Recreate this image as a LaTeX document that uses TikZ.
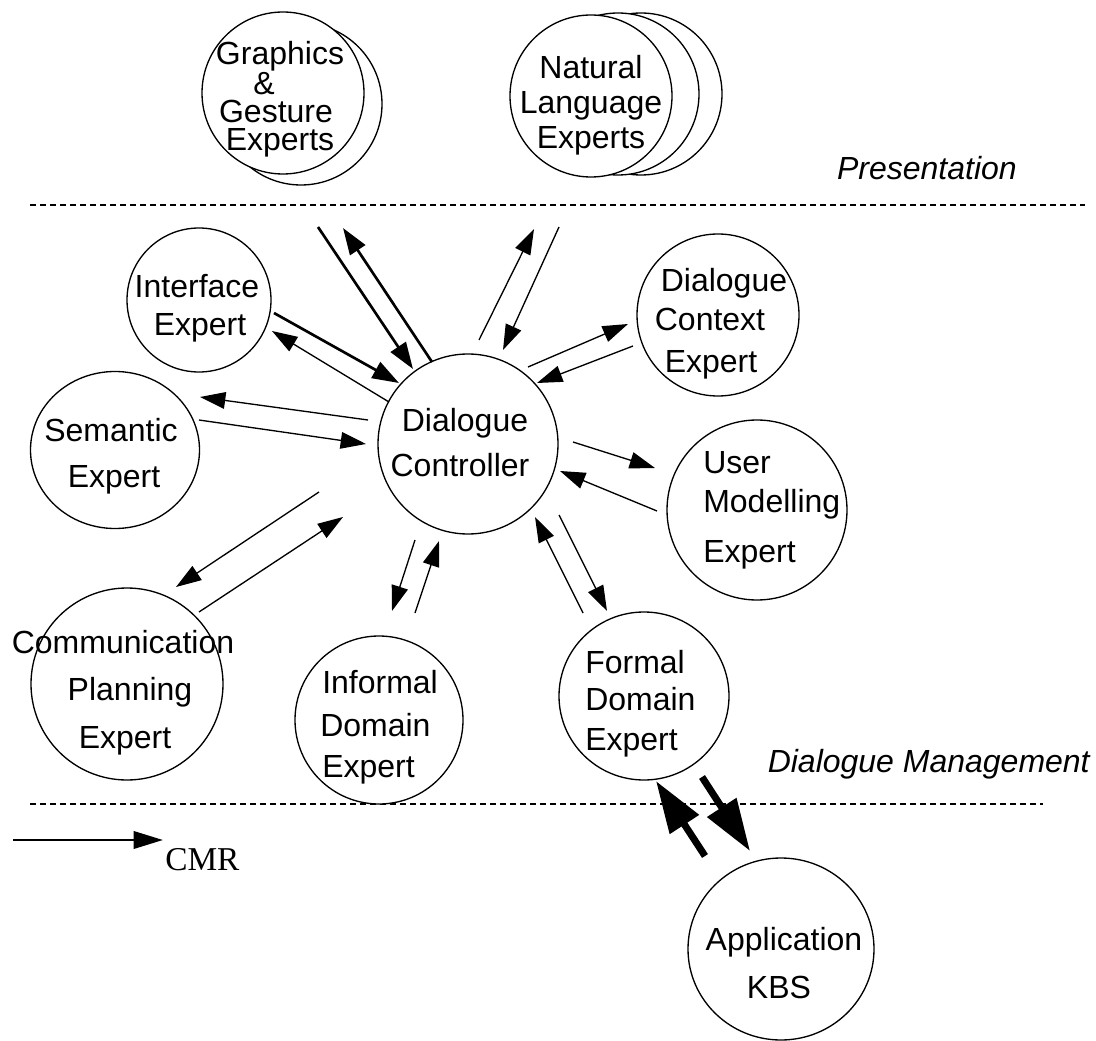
\documentclass[tikz,border=0pt]{standalone}
\usepackage{fontspec}
\setmainfont{Liberation Sans}
\newfontfamily\cmrfont{Liberation Serif}
\usetikzlibrary{arrows.meta,shapes.geometric}
\begin{document}
\begin{tikzpicture}[x=0.75pt,y=-0.75pt,
  bub/.style={draw, ellipse, line width=1pt, inner sep=0pt, fill=white},
  lbl/.style={font=\fontsize{24}{28}\selectfont, inner sep=0pt, anchor=base},
  lblw/.style={lbl, anchor=base west},
  cthin/.style={line width=1pt, -{Triangle[length=19pt,width=12.5pt]}},
  cthick/.style={line width=2pt, -{Triangle[length=20pt,width=13.5pt]}},
  cbig/.style={line width=5.25pt, -{Triangle[length=39pt,width=25pt]}},
  sepline/.style={line width=0.8pt, dash pattern=on 4.5pt off 3pt}]
\useasboundingbox[fill=white] (0,0) rectangle (1096,1041);

% separators
\coordinate (s1a) at (30,205);  \coordinate (s1b) at (1085,205);
\coordinate (s2a) at (30,804);  \coordinate (s2b) at (1043,804);
\draw[sepline] (s1a) -- (s1b);
\draw[sepline] (s2a) -- (s2b);

% bubbles
\node[bub, minimum width=121.5pt, minimum height=121.5pt] (gback) at (301,104) {};
\node[bub, minimum width=121.5pt, minimum height=121.5pt] (gfront) at (283,93) {};
\node[bub, minimum width=121.5pt, minimum height=121.5pt] (nl3) at (641,94) {};
\node[bub, minimum width=121.5pt, minimum height=121.5pt] (nl2) at (618,94) {};
\node[bub, minimum width=121.5pt, minimum height=121.5pt] (nl1) at (591,96) {};
\node[bub, minimum width=108pt, minimum height=108pt] (iface) at (199,300) {};
\node[bub, minimum width=126.75pt, minimum height=117.75pt] (sem) at (115,450) {};
\node[bub, minimum width=135pt, minimum height=135pt] (dc) at (468,444) {};
\node[bub, minimum width=121.5pt, minimum height=121.5pt] (dce) at (718,315) {};
\node[bub, minimum width=135pt, minimum height=135pt] (um) at (757,510) {};
\node[bub, minimum width=144pt, minimum height=144pt] (cp) at (127,684) {};
\node[bub, minimum width=126pt, minimum height=126pt] (inf) at (379,720) {};
\node[bub, minimum width=127.5pt, minimum height=126pt] (fd) at (644,696) {};
\node[bub, minimum width=139.5pt, minimum height=136.5pt] (kbs) at (781,949) {};

% labels
\node[inner sep=0pt, align=center, font=\fontsize{24}{21}\selectfont] (gtxt) at (280,99)
  {Graphics\\\hbox{\&\kern24pt}\\\hbox{Gesture\kern6pt}\\Experts};
\node[inner sep=0pt, align=center, font=\fontsize{24}{26.25}\selectfont] (ntxt) at (591,105)
  {Natural\\Language\\Experts};
\node[lbl] (i1) at (197,298) {Interface};
\node[lbl] (i2) at (200,335) {Expert};
\node[lbl] (se1) at (111,441) {Semantic};
\node[lbl] (se2) at (114,487) {Expert};
\node[lbl] (d1) at (465,431) {Dialogue};
\node[lbl] (d2) at (460,476) {Controller};
\node[lbl] (c1) at (724,292) {Dialogue};
\node[lbl] (c2) at (710,330) {Context};
\node[lbl] (c3) at (711,372) {Expert};
\node[lblw] (u1) at (703,473) {User};
\node[lblw] (u2) at (703,512) {Modelling};
\node[lblw] (u3) at (703,562) {Expert};
\node[lbl] (p1) at (123,653) {Communication};
\node[lbl] (p2) at (130,700) {Planning};
\node[lbl] (p3) at (125,748) {Expert};
\node[lblw] (f1) at (322,693) {Informal};
\node[lblw] (f2) at (320,736) {Domain};
\node[lblw] (f3) at (322,777) {Expert};
\node[lblw] (o1) at (585,673) {Formal};
\node[lblw] (o2) at (585,710) {Domain};
\node[lblw] (o3) at (585,750) {Expert};
\node[lbl] (k1) at (784,950) {Application};
\node[lbl] (k2) at (779,998) {KBS};
\node[lbl, anchor=base east, font=\fontsize{24}{28}\selectfont\itshape] (pres) at (1017,180) {Presentation};
\node[lbl, anchor=base east, font=\fontsize{24}{28}\selectfont\itshape] (dman) at (1090,772) {Dialogue Management};
\node[lblw, font=\fontsize{25}{28}\selectfont\cmrfont] (cmr) at (165,870) {CMR};

% connector end points
\coordinate (gd0) at (318,227); \coordinate (gd1) at (413,369);
\coordinate (gu0) at (432,362); \coordinate (gu1) at (343,228);
\coordinate (nu0) at (479,340); \coordinate (nu1) at (534,229);
\coordinate (nd0) at (559,227); \coordinate (nd1) at (503,350);
\coordinate (it0) at (274,313); \coordinate (it1) at (399,383);
\coordinate (ib0) at (389,402); \coordinate (ib1) at (272,331);
\coordinate (ca0) at (528,367); \coordinate (ca1) at (628,324);
\coordinate (cb0) at (633,346); \coordinate (cb1) at (537,383);
\coordinate (sa0) at (368,420); \coordinate (sa1) at (200,397);
\coordinate (sb0) at (199,420); \coordinate (sb1) at (366,444);
\coordinate (ua0) at (573,442); \coordinate (ua1) at (655,468);
\coordinate (ub0) at (657,511); \coordinate (ub1) at (560,471);
\coordinate (pa0) at (319,492); \coordinate (pa1) at (176,587);
\coordinate (pb0) at (199,612); \coordinate (pb1) at (343,517);
\coordinate (fa0) at (415,540); \coordinate (fa1) at (392,611);
\coordinate (fb0) at (415,613); \coordinate (fb1) at (439,541);
\coordinate (oa0) at (583,613); \coordinate (oa1) at (535,517);
\coordinate (ob0) at (559,515); \coordinate (ob1) at (607,611);
\coordinate (ka0) at (705,856); \coordinate (ka1) at (656,781);
\coordinate (kb0) at (702,777); \coordinate (kb1) at (750,851);
\coordinate (lg0) at (13,840);  \coordinate (lg1) at (163,840);

% connectors
\draw[cthick] (gd0) -- (gd1);
\draw[cthick] (gu0) -- (gu1);
\draw[cthin] (nu0) -- (nu1);
\draw[cthin] (nd0) -- (nd1);
\draw[cthick] (it0) -- (it1);
\draw[cthin] (ib0) -- (ib1);
\draw[cthin] (ca0) -- (ca1);
\draw[cthin] (cb0) -- (cb1);
\draw[cthin] (sa0) -- (sa1);
\draw[cthin] (sb0) -- (sb1);
\draw[cthin] (ua0) -- (ua1);
\draw[cthin] (ub0) -- (ub1);
\draw[cthin] (pa0) -- (pa1);
\draw[cthin] (pb0) -- (pb1);
\draw[cthin] (fa0) -- (fa1);
\draw[cthin] (fb0) -- (fb1);
\draw[cthin] (oa0) -- (oa1);
\draw[cthin] (ob0) -- (ob1);
\draw[cbig] (ka0) -- (ka1);
\draw[cbig] (kb0) -- (kb1);
\draw[line width=2pt, -{Triangle[length=22pt,width=13pt]}] (lg0) -- (lg1);
\end{tikzpicture}
\end{document}
